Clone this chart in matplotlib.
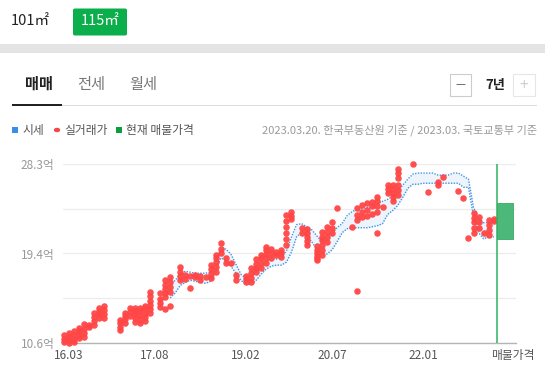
import matplotlib
matplotlib.use("Agg")
import matplotlib.pyplot as plt
from matplotlib.patches import Rectangle, FancyBboxPatch, Circle

plt.rcParams['font.family'] = ['Noto Sans CJK KR', 'DejaVu Sans']

W, H = 545, 382

# 실거래가 (억원), 거래월별
deal_months = ["16.02", "16.03", "16.04", "16.05", "16.06", "16.07", "16.08", "16.09", "16.10",
               "17.01", "17.02", "17.03", "17.04", "17.05", "17.06", "17.07", "17.09", "17.10", "17.11",
               "18.01", "18.02", "18.03", "18.04", "18.05", "18.06", "18.07", "18.08", "18.09", "18.10",
               "18.11", "18.12", "19.02", "19.03", "19.04", "19.05", "19.06", "19.07", "19.08", "19.09",
               "19.10", "19.11", "20.01", "20.02", "20.04", "20.05", "20.06", "20.07", "20.08", "20.11",
               "20.12", "21.01", "21.02", "21.03", "21.04", "21.05", "21.06", "21.07", "21.08", "21.11",
               "22.02", "22.04", "22.05", "22.08", "22.09", "22.10", "22.11", "22.12", "23.01", "23.02",
               "23.03"]
deal_prices = [[10.7, 11.0, 11.4], [10.6, 10.9, 11.2, 11.6], [10.7, 11.0, 11.4, 11.8],
               [11.1, 11.5, 11.8, 12.1], [11.2, 11.6, 12.0, 12.5], [12.2, 12.4],
               [12.4, 12.8, 13.2, 13.6], [13.1, 13.5, 13.8, 14.1], [13.1, 13.5, 13.9, 14.3],
               [11.9, 12.2, 12.6, 12.9], [12.6, 13.0, 13.3, 13.6], [13.3, 13.7, 14.1],
               [12.7, 13.1, 13.5, 13.8, 14.1], [12.6, 13.0, 13.4, 13.8, 14.1],
               [12.8, 13.2, 13.6, 14.0, 14.3], [13.6, 14.0, 14.4, 14.8, 15.2, 15.6],
               [14.2, 14.6, 15.0, 15.5], [14.0, 15.1, 15.5, 15.9, 16.3, 16.8],
               [14.3, 15.6, 16.1, 16.6, 17.1],
               [16.8, 17.2, 17.6, 18.1], [16.9, 17.3], [16.0, 17.2], [17.1, 17.3], [16.8, 17.2],
               [17.1], [17.0, 17.4, 17.9, 18.3], [17.6, 18.1, 18.6, 19.0, 19.3], [19.5, 19.9, 20.5],
               [18.5, 19.0], [18.5], [16.8, 17.3],
               [16.6, 16.9, 17.2], [16.6, 17.0, 17.5, 18.0], [17.6, 18.0, 18.4, 18.9],
               [18.0, 18.5, 19.0, 19.3], [18.5, 19.0, 19.4, 19.8, 20.1], [19.0, 19.5, 19.9],
               [19.3, 19.6], [19.1, 19.5, 19.8], [20.3, 20.9, 21.5, 22.1, 22.7, 23.3],
               [22.9, 23.2, 23.6], [21.5, 22.0], [20.3, 20.7, 21.1, 21.5, 21.9],
               [18.8, 19.0, 19.2, 19.5, 19.8, 20.2], [19.3, 19.8, 20.3, 20.8, 21.1, 21.6],
               [20.6, 21.1, 21.6, 22.1], [21.5, 22.0, 22.6], [23.9], [22.1],
               [15.7, 22.8, 23.3, 23.9], [23.1, 23.6, 24.2], [23.2, 23.8, 24.4], [23.4, 24.1, 24.5],
               [21.5, 23.6, 24.1, 24.6, 25.0], [24.0], [25.4, 25.8, 26.2],
               [24.6, 25.0, 25.4, 25.8, 26.2], [25.2, 25.7, 26.2, 26.9, 27.4, 27.8], [28.3],
               [25.5], [26.2, 26.5], [27.0], [25.6], [24.9], [21.0], [21.5, 22.0, 22.6, 23.0, 23.5],
               [22.0, 22.6, 23.1], [21.5], [21.3, 21.8, 22.3, 22.8], [22.7, 22.9]]

# 시세 상한/하한 (17.11 ~ 23.03, 월별)
band_start = "17.11"
band_upper = [16.3, 16.8, 17.4, 17.7, 17.6, 17.5, 17.5, 17.5, 17.6, 18.5, 19.8, 19.9, 19.4, 18.4,
              17.4, 17.0, 17.3, 17.8, 18.2, 18.8, 19.0, 18.9, 19.1, 19.7, 21.1, 22.3, 22.4, 22.1,
              21.8, 21.2, 20.6, 20.8, 21.4, 22.0, 22.4, 23.2, 23.6, 23.8, 23.9, 24.0, 24.1, 24.4,
              24.6, 24.8, 25.1, 25.6, 26.2, 26.8, 27.3, 27.4, 27.4, 27.4, 27.4, 27.2, 27.2, 27.2,
              27.4, 27.4, 27.1, 26.8, 24.0, 22.9, 22.5, 22.5, 22.5]
band_lower = [15.05, 15.55, 16.3, 16.6, 16.8, 16.7, 16.6, 16.5, 16.7, 17.8, 19.0, 18.8, 18.2, 17.5,
              16.8, 16.4, 16.4, 16.8, 17.4, 17.9, 18.2, 18.3, 18.3, 18.6, 19.6, 21.1, 21.5, 21.4,
              20.6, 19.9, 19.5, 19.4, 19.8, 20.6, 21.5, 21.9, 22.0, 22.0, 22.0, 22.0, 22.1, 22.2,
              22.4, 23.3, 23.7, 24.2, 25.0, 25.9, 26.3, 26.3, 26.4, 26.4, 26.4, 26.4, 26.4, 26.4,
              26.4, 26.4, 26.0, 26.0, 23.1, 21.5, 20.9, 21.1, 21.1]

# 현재 매물가격 범위
listing_low, listing_high = 20.9, 24.4

x_tick_labels = ["16.03", "17.08", "19.02", "20.07", "22.01"]
y_min, y_max = 10.6, 28.3
y_tick_labels = ["10.6억", "", "19.4억", "", "28.3억"]


def month_index(s):
    yy, mm = s.split(".")
    return (int(yy) - 16) * 12 + int(mm) - 1


def fx(x):
    return x / W


def fy(y):
    return 1 - y / H


def box(x, y, w, h, **kw):
    fig.patches.append(Rectangle((fx(x), fy(y + h)), w / W, h / H,
                                 transform=fig.transFigure, **kw))


fig = plt.figure(figsize=(W / 100, H / 100), dpi=100)

# --- 상단 면적 선택 ---
fig.text(fx(30), fy(21), "101㎡", fontsize=10.5, color="#222222", ha="center", va="center")
fig.patches.append(FancyBboxPatch((fx(73), fy(35.5)), 54 / W, 27 / H,
                                  boxstyle="round,pad=0,rounding_size=0.004",
                                  transform=fig.transFigure, facecolor="#0aae4a",
                                  edgecolor="none"))
fig.text(fx(100), fy(21), "115㎡", fontsize=10.5, color="white", ha="center", va="center")
box(0, 44, W, 8.5, facecolor="#e4e4e4", edgecolor="none")

# --- 탭 ---
fig.text(fx(39), fy(84), "매매", fontsize=11, color="#222222", ha="center", va="center",
         fontweight="bold")
fig.text(fx(91), fy(84), "전세", fontsize=11, color="#777777", ha="center", va="center")
fig.text(fx(143), fy(84), "월세", fontsize=11, color="#777777", ha="center", va="center")
box(12, 105, 525, 1, facecolor="#dddddd", edgecolor="none")
box(12, 103.5, 50, 2.5, facecolor="#222222", edgecolor="none")

box(450, 74, 21, 22, facecolor="white", edgecolor="#cccccc", linewidth=0.8)
fig.text(fx(460.5), fy(85), "—", fontsize=8, color="#555555", ha="center", va="center")
fig.text(fx(495), fy(85), "7년", fontsize=9.5, color="#222222", ha="center", va="center",
         fontweight="bold")
box(513, 74, 22, 22, facecolor="white", edgecolor="#e6e6e6", linewidth=0.8)
fig.text(fx(524), fy(85), "+", fontsize=11, color="#d0d0d0", ha="center", va="center")

# --- 범례 ---
box(12, 127, 6, 6, facecolor="#3a8ee6", edgecolor="none")
fig.text(fx(22), fy(130), "시세", fontsize=8.5, color="#555555", ha="left", va="center")
fig.patches.append(Circle((fx(57), fy(130)), 3.2 / W, transform=fig.transFigure,
                          facecolor="#f24848", edgecolor="none"))
fig.text(fx(64), fy(130), "실거래가", fontsize=8.5, color="#555555", ha="left", va="center")
box(116, 127, 6, 6, facecolor="#0a9e3f", edgecolor="none")
fig.text(fx(126), fy(130), "현재 매물가격", fontsize=8.5, color="#555555", ha="left", va="center")
fig.text(fx(537), fy(130), "2023.03.20. 한국부동산원 기준 / 2023.03. 국토교통부 기준",
         fontsize=8, color="#9a9a9a", ha="right", va="center")

# --- 차트 ---
ax = fig.add_axes([fx(63), fy(343), (516 - 63) / W, (343 - 164) / H])
ax.set_xlim(0.81, 90.4)
ax.set_ylim(y_min, y_max)

start = month_index(band_start)
band_x = [start + i for i in range(len(band_upper))]
ax.fill_between(band_x, band_lower, band_upper, color="#edf4fc", linewidth=0, zorder=1)
ax.plot(band_x, band_upper, color="#3f93e8", lw=1.0, ls=(0, (1, 1)), zorder=2)
ax.plot(band_x, band_lower, color="#3f93e8", lw=1.0, ls=(0, (1, 1)), zorder=2)

xs, ys = [], []
for m, prices in zip(deal_months, deal_prices):
    for p in prices:
        xs.append(month_index(m))
        ys.append(p)
ax.scatter(xs, ys, s=22, color="#ff4545", alpha=0.95, linewidths=0, zorder=3, clip_on=False)

now = month_index("23.03") + 0.6
ax.axvline(now, color="#2eb35e", lw=1.1, zorder=4)
ax.add_patch(Rectangle((now, listing_low), 3.2, listing_high - listing_low,
                       facecolor="#4cb87a", edgecolor="#3aa866", lw=0.6, zorder=4))

step = (y_max - y_min) / 4
ax.set_yticks([y_min + i * step for i in range(5)])
ax.set_yticklabels(y_tick_labels)
ax.set_xticks([month_index(s) for s in x_tick_labels] + [89.8])
ax.set_xticklabels(x_tick_labels + ["매물가격"])
ax.tick_params(axis="both", length=0, labelsize=8.5)
ax.tick_params(axis="y", pad=6, labelcolor="#999999")
ax.tick_params(axis="x", pad=4, labelcolor="#555555")
ax.grid(axis="y", color="#ececec", lw=0.9)
ax.set_axisbelow(True)
for side in ["top", "right", "left"]:
    ax.spines[side].set_visible(False)
ax.spines["bottom"].set_color("#b5b5b5")
ax.spines["bottom"].set_linewidth(1.0)
ax.set_facecolor("none")

fig.savefig("out.png", dpi=100)
